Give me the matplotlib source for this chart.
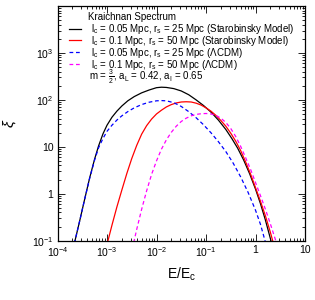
import numpy as np
import matplotlib
matplotlib.use("Agg")
import matplotlib.pyplot as plt
from matplotlib.ticker import LogLocator, FixedLocator, FixedFormatter, NullFormatter

plt.rcParams['font.family'] = ['Liberation Sans', 'DejaVu Sans']
plt.rcParams['mathtext.fontset'] = 'custom'
plt.rcParams['mathtext.rm'] = 'Liberation Sans'
plt.rcParams['mathtext.it'] = 'Liberation Sans:italic'
plt.rcParams['mathtext.bf'] = 'Liberation Sans:bold'

# ---- data (log10 E/Ec, log10 xi) ----
black_logE = [-3.66, -3.55, -3.45, -3.35, -3.25, -3.17, -3.08, -3.00, -2.90, -2.80, -2.70,
              -2.58, -2.45, -2.30, -2.15, -2.00, -1.90, -1.80, -1.65, -1.50, -1.35, -1.20,
              -1.05, -0.90, -0.75, -0.60, -0.48, -0.36, -0.24, -0.12, 0.00, 0.10, 0.20, 0.32]
black_logXi = [-1.06, -0.57, -0.11, 0.34, 0.74, 1.02, 1.28, 1.46, 1.63, 1.76, 1.87,
               1.98, 2.07, 2.15, 2.21, 2.26, 2.27, 2.265, 2.24, 2.19, 2.11, 2.00,
               1.88, 1.74, 1.57, 1.37, 1.18, 0.97, 0.72, 0.43, 0.10, -0.21, -0.56, -1.03]

red_logE = [-2.99, -2.90, -2.80, -2.70, -2.60, -2.50, -2.40, -2.30, -2.20, -2.10, -2.00,
            -1.90, -1.80, -1.70, -1.60, -1.50, -1.40, -1.30, -1.20, -1.10, -1.00, -0.90,
            -0.80, -0.70, -0.60, -0.50, -0.40, -0.30, -0.20, -0.10, 0.00, 0.10, 0.20,
            0.30, 0.36]
red_logXi = [-1.04, -0.67, -0.28, 0.08, 0.43, 0.75, 1.03, 1.27, 1.45, 1.59, 1.70,
             1.78, 1.85, 1.90, 1.935, 1.955, 1.96, 1.955, 1.93, 1.89, 1.83, 1.76,
             1.67, 1.56, 1.44, 1.29, 1.12, 0.92, 0.68, 0.42, 0.13, -0.16, -0.47,
             -0.82, -1.05]

blue_logE = [-3.66, -3.55, -3.45, -3.35, -3.25, -3.17, -3.08, -3.00, -2.90, -2.80, -2.70,
             -2.58, -2.45, -2.30, -2.15, -2.00, -1.90, -1.80, -1.65, -1.50, -1.35, -1.20,
             -1.05, -0.90, -0.75, -0.60, -0.45, -0.30, -0.15, 0.00, 0.10, 0.20]
blue_logXi = [-1.06, -0.57, -0.11, 0.33, 0.72, 0.98, 1.18, 1.33, 1.46, 1.57, 1.66,
              1.75, 1.83, 1.90, 1.95, 1.98, 1.985, 1.98, 1.94, 1.86, 1.75, 1.62,
              1.47, 1.30, 1.11, 0.90, 0.65, 0.36, 0.03, -0.35, -0.65, -1.03]

mag_logE = [-2.46, -2.40, -2.30, -2.20, -2.10, -2.00, -1.90, -1.80, -1.70, -1.60, -1.50,
            -1.40, -1.30, -1.20, -1.10, -1.00, -0.90, -0.80, -0.70, -0.60, -0.50, -0.40,
            -0.30, -0.20, -0.10, 0.00, 0.10, 0.20, 0.30, 0.40, 0.43]
mag_logXi = [-1.04, -0.76, -0.33, 0.06, 0.41, 0.70, 0.95, 1.15, 1.31, 1.44, 1.54,
             1.61, 1.66, 1.69, 1.705, 1.71, 1.70, 1.67, 1.61, 1.52, 1.39, 1.22,
             1.01, 0.77, 0.52, 0.24, -0.04, -0.33, -0.64, -0.97, -1.07]

labels = [r"$\mathrm{l_c}$ = 0.05 Mpc, $\mathrm{r_s}$ = 25 Mpc (Starobinsky Model)",
          r"$\mathrm{l_c}$ = 0.1 Mpc, $\mathrm{r_s}$ = 50 Mpc (Starobinsky Model)",
          r"$\mathrm{l_c}$ = 0.05 Mpc, $\mathrm{r_s}$ = 25 Mpc ($\Lambda$CDM)",
          r"$\mathrm{l_c}$ = 0.1 Mpc, $\mathrm{r_s}$ = 50 Mpc ($\Lambda$CDM)"]
title_text = "Kraichnan Spectrum"
param_text = r"m = $\mathrm{\frac{3}{2}}$, $\mathrm{a_L}$ = 0.42, $\mathrm{a_I}$ = 0.65"

xticks = [1e-4, 1e-3, 1e-2, 1e-1, 1, 10]
xticklabels = [r"$\mathrm{10^{-4}}$", r"$\mathrm{10^{-3}}$", r"$\mathrm{10^{-2}}$",
               r"$\mathrm{10^{-1}}$", "1", "10"]
yticks = [1e-1, 1, 10, 1e2, 1e3]
yticklabels = [r"$\mathrm{10^{-1}}$", "1", "10", r"$\mathrm{10^{2}}$", r"$\mathrm{10^{3}}$"]

fig = plt.figure(figsize=(3.15, 3.0), dpi=100)
ax = fig.add_axes([57.5/315, 59.3/300, (305-57.5)/315, (294-59.3)/300])

def p(lx, ly):
    return 10**np.array(lx), 10**np.array(ly)

l1, = ax.plot(*p(black_logE, black_logXi), color='black', lw=0.9)
l2, = ax.plot(*p(red_logE, red_logXi), color='#ff0000', lw=0.9)
l3, = ax.plot(*p(blue_logE, blue_logXi), color='#0000ff', lw=0.9, dashes=(3, 2.2))
l4, = ax.plot(*p(mag_logE, mag_logXi), color='#ff00ff', lw=0.9, dashes=(3, 2.2))

ax.set_xscale('log')
ax.set_yscale('log')
ax.set_xlim(1e-4, 10)
ax.set_ylim(1e-1, 1e4)

ax.xaxis.set_major_locator(FixedLocator(xticks))
ax.xaxis.set_major_formatter(FixedFormatter(xticklabels))
ax.yaxis.set_major_locator(FixedLocator(yticks))
ax.yaxis.set_major_formatter(FixedFormatter(yticklabels))
ax.xaxis.set_minor_locator(LogLocator(base=10, subs=np.arange(2, 10), numticks=20))
ax.yaxis.set_minor_locator(LogLocator(base=10, subs=np.arange(2, 10), numticks=20))
ax.xaxis.set_minor_formatter(NullFormatter())
ax.yaxis.set_minor_formatter(NullFormatter())
ax.tick_params(which='both', direction='in', top=True, right=True, labelsize=7.5, width=0.6)
ax.tick_params(which='major', length=5, pad=3)
ax.tick_params(which='minor', length=2.5)
for s in ax.spines.values():
    s.set_linewidth(0.9)

ax.set_xlabel(r"E/$\mathrm{E_c}$", fontsize=10, labelpad=5)
ax.set_ylabel(r"$\xi$", fontsize=11, labelpad=10)

leg = ax.legend([l1, l2, l3, l4], labels, loc='upper left', frameon=False,
                fontsize=7, handlelength=1.25, handletextpad=1.0, labelspacing=-0.22,
                bbox_to_anchor=(69/315, 1 - 22/300), bbox_transform=fig.transFigure,
                borderaxespad=0, borderpad=0)
fig.text(88/315, 1 - 17/300, title_text, fontsize=7, va='center', ha='left')
fig.text(89/315, 1 - 77/300, param_text, fontsize=7, va='center', ha='left')

fig.savefig("out.png", dpi=100)
